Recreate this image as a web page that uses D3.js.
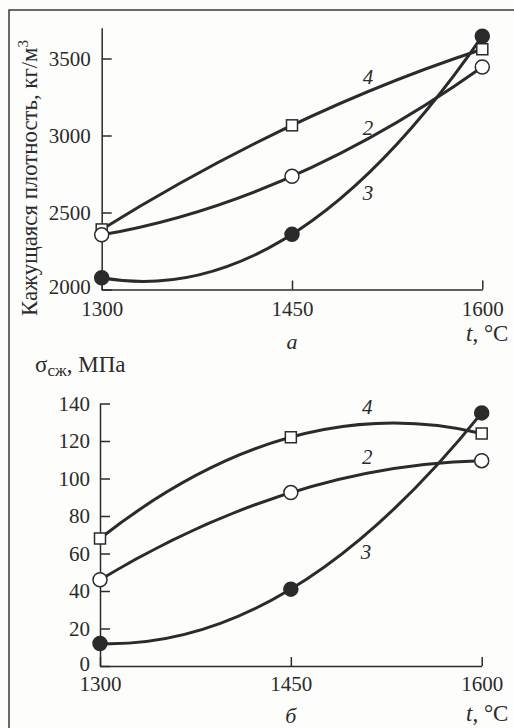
<!DOCTYPE html>
<html>
<head>
<meta charset="utf-8">
<script src="https://cdn.jsdelivr.net/npm/d3@7"></script>
<style>
  html, body { margin: 0; padding: 0; background: #fdfdfc; }
  svg { display: block; }
  text { font-family: "Liberation Serif", "DejaVu Serif", serif; fill: #2b2b2b; }
</style>
</head>
<body>
<svg id="chart" width="514" height="728"></svg>
<script>
// ---------- DATA ----------
const temps = [1300, 1450, 1600];
const xTicks = [1300, 1450, 1600];

// Panel a: apparent density, kg/m3
const densityTicks = [2000, 2500, 3000, 3500];
const density2 = [2355, 2735, 3445];
const density3 = [2076, 2358, 3645];
const density4 = [2390, 3066, 3560];

// Panel б: compressive strength, MPa
const strengthTicks = [0, 20, 40, 60, 80, 100, 120, 140];
const strength2 = [46, 92.5, 109.5];
const strength3 = [12, 41, 135];
const strength4 = [68, 122, 124];

// curve labels (data units)
const labelsA = [{t: "4", x: 1510, y: 3335}, {t: "2", x: 1510, y: 3003}, {t: "3", x: 1510, y: 2581}];
const labelsB = [{t: "4", x: 1510, y: 134.4}, {t: "2", x: 1510, y: 107.7}, {t: "3", x: 1509, y: 57}];

// ---------- DRAW ----------
const svg = d3.select("#chart");
const ink = "#2b2b2b";

// frame
svg.append("path").attr("d", "M9,728 L9,10 L514,10")
  .attr("fill", "none").attr("stroke", "#3a3a3a").attr("stroke-width", 1.5);

// parabola through 3 points, drawn as one quadratic Bezier
function curveParabola(context) {
  let pts;
  return {
    areaStart() {}, areaEnd() {},
    lineStart() { pts = []; },
    point(x, y) { pts.push([+x, +y]); },
    lineEnd() {
      if (pts.length === 3) {
        const [a, b, c] = pts;
        context.moveTo(a[0], a[1]);
        context.quadraticCurveTo(2 * b[0] - (a[0] + c[0]) / 2, 2 * b[1] - (a[1] + c[1]) / 2, c[0], c[1]);
      } else {
        pts.forEach((p, i) => i ? context.lineTo(p[0], p[1]) : context.moveTo(p[0], p[1]));
      }
    }
  };
}

function panel(opt) {
  const g = svg.append("g");
  const x = d3.scaleLinear().domain([1300, 1600]).range(opt.xRange);
  const y = d3.scaleLinear().domain(opt.yDomain).range(opt.yRange);

  const yAxis = d3.axisLeft(y).tickValues(opt.yTicks).tickSizeInner(-10).tickSizeOuter(0)
    .tickPadding(opt.yPad).tickFormat(d3.format("d"));
  const ga = g.append("g").attr("transform", `translate(${opt.xRange[0]},0)`).call(yAxis);
  const xAxis = d3.axisBottom(x).tickValues(xTicks).tickSizeInner(-9).tickSizeOuter(0)
    .tickPadding(opt.xPad).tickFormat(d3.format("d"));
  const gx = g.append("g").attr("transform", `translate(0,${y(opt.yDomain[0])})`).call(xAxis);
  [ga, gx].forEach(a => {
    a.selectAll("path, line").attr("stroke", ink).attr("stroke-width", 1.5);
    a.selectAll("text").attr("font-family", "Liberation Serif").attr("font-size", 21).attr("fill", ink);
  });
  // lift the lowest y label slightly, as in the print
  ga.selectAll(".tick text").filter(d => d === opt.yDomain[0]).attr("dy", "0.2em");

  const line = d3.line().x((d, i) => x(temps[i])).y(d => y(d)).curve(curveParabola);
  opt.series.forEach(s => {
    g.append("path").attr("d", line(s.v)).attr("fill", "none")
      .attr("stroke", ink).attr("stroke-width", 3).attr("stroke-linecap", "round");
  });
  opt.series.forEach(s => {
    s.v.forEach((v, i) => {
      if (s.m === "square") {
        g.append("rect").attr("x", x(temps[i]) - 5.5).attr("y", y(v) - 5.5)
          .attr("width", 11).attr("height", 11)
          .attr("fill", "#fff").attr("stroke", ink).attr("stroke-width", 1.5);
      } else {
        g.append("circle").attr("cx", x(temps[i])).attr("cy", y(v)).attr("r", 7)
          .attr("fill", s.m === "filled" ? ink : "#fff").attr("stroke", ink).attr("stroke-width", 1.5);
      }
    });
  });
  opt.labels.forEach(l => {
    g.append("text").attr("x", x(l.x)).attr("y", y(l.y)).attr("text-anchor", "middle")
      .attr("font-style", "italic").attr("font-size", 21).text(l.t);
  });
  // t, °C
  const tl = g.append("text").attr("x", 466).attr("y", opt.tBase).attr("font-size", 23);
  tl.append("tspan").attr("font-style", "italic").text("t");
  tl.append("tspan").text(", °C");
  // panel letter
  g.append("text").attr("x", x(1450)).attr("y", opt.letterBase).attr("text-anchor", "middle")
    .attr("font-style", "italic").attr("font-size", 22).text(opt.letter);
  return {x, y, g};
}

panel({
  xRange: [101.7, 482.3], yDomain: [2000, 3700], yRange: [289.5, 27.7],
  yTicks: densityTicks, yPad: 11, xPad: 12,
  series: [{v: density4, m: "square"}, {v: density2, m: "open"}, {v: density3, m: "filled"}],
  labels: labelsA, tBase: 341, letter: "а", letterBase: 349
});

panel({
  xRange: [100, 481.7], yDomain: [0, 140], yRange: [666, 403.5],
  yTicks: strengthTicks, yPad: 10, xPad: 10,
  series: [{v: strength4, m: "square"}, {v: strength2, m: "open"}, {v: strength3, m: "filled"}],
  labels: labelsB, tBase: 721, letter: "б", letterBase: 723
});

// y title panel a
const yt = svg.append("text").attr("transform", "translate(37,316) rotate(-90)")
  .attr("font-size", 22.8).attr("fill", ink);
yt.append("tspan").text("Кажущаяся плотность, кг/м");
yt.append("tspan").attr("font-size", 15).attr("dy", -9).text("3");

// y title panel б
const st = svg.append("text").attr("x", 35).attr("y", 372).attr("font-size", 23).attr("fill", ink);
st.append("tspan").text("σ");
st.append("tspan").attr("font-size", 17).attr("dy", 4).text("сж");
st.append("tspan").attr("dy", -4).text(", МПа");
</script>
</body>
</html>
